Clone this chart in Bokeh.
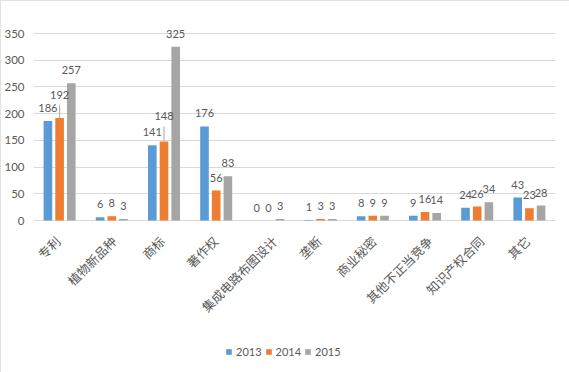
import math
from bokeh.plotting import figure
from bokeh.models import (ColumnDataSource, FactorRange, Range1d, LabelSet, Legend, LegendItem,
                          FixedTicker)
from bokeh.transform import dodge
from bokeh.core.properties import value
from bokeh.embed import file_html
from bokeh.resources import INLINE

categories = ["专利", "植物新品种", "商标", "著作权", "集成电路布图设计",
              "垄断", "商业秘密", "其他不正当竞争", "知识产权合同", "其它"]
years = ["2013", "2014", "2015"]
v2013 = [186, 6, 141, 176, 0, 1, 8, 9, 24, 43]
v2014 = [192, 8, 148, 56, 0, 3, 9, 16, 26, 23]
v2015 = [257, 3, 325, 83, 3, 3, 9, 14, 34, 28]
y_ticks = [0, 50, 100, 150, 200, 250, 300, 350]

colors = ["#5B9BD5", "#ED7D31", "#A5A5A5"]
TXT = "#595959"
GRID = "#D9D9D9"
NUMFONT = "Lato"
CJKFONT = "Noto Sans CJK SC"

# style: labels lifted above bar with a leader line (category index, series index) -> px
lifted = {(0, 1): 10, (2, 1): 12}

W, H = 569, 372
BL, BR = 33, 14
FRAME_TOP, FRAME_BOTTOM = 10, 365     # frame extent (page px)
AX_TOP, AX_ZERO = 33, 220             # where 350 and 0 sit (page px)
ymax = 350
unit = (AX_ZERO - AX_TOP) / ymax      # px per data unit
y_lo = -(FRAME_BOTTOM - AX_ZERO) / unit
y_hi = ymax + (AX_TOP - FRAME_TOP) / unit
LBL_OFF = 9

p = figure(width=W, height=H, output_backend="svg", toolbar_location=None,
           x_range=FactorRange(*categories, range_padding=0),
           y_range=Range1d(y_lo, y_hi),
           min_border_left=BL, min_border_right=BR,
           min_border_top=FRAME_TOP, min_border_bottom=H - FRAME_BOTTOM)
p.outline_line_color = None
p.background_fill_color = "white"
p.border_fill_color = "white"

src = ColumnDataSource(dict(cat=categories, v2013=v2013, v2014=v2014, v2015=v2015))

offs = [-0.224, 0.0, 0.224]
bw = 0.165
series = ["v2013", "v2014", "v2015"]
renderers = []
for i, col in enumerate(series):
    r = p.vbar(x=dodge("cat", offs[i], range=p.x_range), top=col, width=bw,
               fill_color=colors[i], line_color=None, source=src)
    renderers.append(r)
    txt = [("" if (k, i) in lifted else str(v)) for k, v in enumerate(src.data[col])]
    lsrc = ColumnDataSource(dict(cat=categories, y=src.data[col], t=txt))
    p.add_layout(LabelSet(x=dodge("cat", offs[i], range=p.x_range), y="y", text="t",
                          source=lsrc, text_align="center", text_baseline="bottom",
                          y_offset=LBL_OFF, text_font=value(NUMFONT), text_font_size="11px",
                          text_color=TXT))

# lifted labels with leader lines
for (k, i), lift in lifted.items():
    vals = src.data[series[i]]
    cat = categories[k]
    lsrc = ColumnDataSource(dict(cat=[cat], y=[vals[k]], t=[str(vals[k])],
                                 y1=[vals[k] + (lift + 3) / unit]))
    p.add_layout(LabelSet(x=dodge("cat", offs[i], range=p.x_range), y="y", text="t",
                          source=lsrc, text_align="center", text_baseline="bottom",
                          y_offset=LBL_OFF + lift, text_font=value(NUMFONT),
                          text_font_size="11px", text_color=TXT))
    p.segment(x0=dodge("cat", offs[i], range=p.x_range), y0="y",
              x1=dodge("cat", offs[i], range=p.x_range), y1="y1",
              line_color="#A6A6A6", line_width=1, source=lsrc)

# y axis
p.yaxis.ticker = FixedTicker(ticks=y_ticks)
p.yaxis.axis_line_color = None
p.yaxis.major_tick_line_color = None
p.yaxis.minor_tick_line_color = None
p.yaxis.major_tick_out = 0
p.yaxis.major_tick_in = 0
p.yaxis.minor_tick_out = 0
p.yaxis.major_label_text_color = TXT
p.yaxis.major_label_text_font = NUMFONT
p.yaxis.major_label_text_font_size = "11.5px"
p.yaxis.major_label_standoff = 9

# category axis: labels drawn as rotated text under the zero line
p.xaxis.visible = False
shift = [min(8, round(1.4 * (len(c) - 2))) - 2 for c in categories]
csrc = ColumnDataSource(dict(cat=categories, y=[0] * len(categories), dx=shift))
p.add_layout(LabelSet(x="cat", y="y", text="cat", source=csrc, angle=math.pi / 4,
                      text_align="right", text_baseline="middle", x_offset="dx", y_offset=-18,
                      text_font=value(CJKFONT), text_font_size="12.5px", text_color=TXT))

p.xgrid.grid_line_color = None
p.ygrid.grid_line_color = GRID
p.ygrid.ticker = FixedTicker(ticks=y_ticks)

legend = Legend(items=[LegendItem(label=years[i], renderers=[renderers[i]]) for i in range(3)],
                orientation="horizontal", location=(192, 7),
                glyph_width=7, glyph_height=7, label_standoff=4, spacing=3,
                label_text_font=NUMFONT, label_text_font_size="11px", label_text_color=TXT,
                label_height=14, padding=0, margin=0,
                border_line_color=None, background_fill_alpha=0)
p.add_layout(legend, "center")

p.styles = {"outline": "1px solid #D9D9D9", "outline-offset": "-1px"}

open("out.html", "w").write(file_html(p, INLINE))
